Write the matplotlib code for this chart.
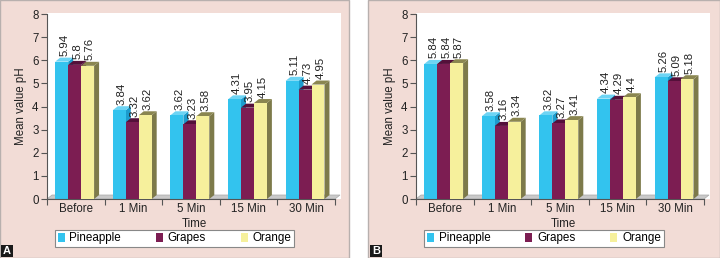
import numpy as np
import matplotlib
matplotlib.use('agg')
import matplotlib.pyplot as plt
from matplotlib.patches import Polygon, Rectangle, Patch

plt.rcParams['font.family'] = ['Liberation Sans', 'DejaVu Sans']

categories = ['Before', '1 Min', '5 Min', '15 Min', '30 Min']
series = ['Pineapple', 'Grapes', 'Orange']
panel_a = {
    'Pineapple': [5.94, 3.84, 3.62, 4.31, 5.11],
    'Grapes': [5.8, 3.32, 3.23, 3.95, 4.73],
    'Orange': [5.76, 3.62, 3.58, 4.15, 4.95],
}
panel_b = {
    'Pineapple': [5.84, 3.58, 3.62, 4.34, 5.26],
    'Grapes': [5.84, 3.16, 3.27, 4.29, 5.09],
    'Orange': [5.87, 3.34, 3.41, 4.4, 5.18],
}
labels_a = {
    'Pineapple': ['5.94', '3.84', '3.62', '4.31', '5.11'],
    'Grapes': ['5.8', '3.32', '3.23', '3.95', '4.73'],
    'Orange': ['5.76', '3.62', '3.58', '4.15', '4.95'],
}
labels_b = {
    'Pineapple': ['5.84', '3.58', '3.62', '4.34', '5.26'],
    'Grapes': ['5.84', '3.16', '3.27', '4.29', '5.09'],
    'Orange': ['5.87', '3.34', '3.41', '4.4', '5.18'],
}

# front, top, side colours
colors = {
    'Pineapple': ('#33c3ee', '#6dd4f4', '#1c9ccd'),
    'Grapes': ('#7c1d52', '#54103a', '#5a123f'),
    'Orange': ('#f6f09c', '#8a8650', '#7d7a4a'),
}
PINK = '#f2dcd6'
W, H = 720, 258
fig = plt.figure(figsize=(W / 100, H / 100), dpi=100)


def px_axes(x0, y0, x1, y1):
    return [x0 / W, 1 - y1 / H, (x1 - x0) / W, (y1 - y0) / H]


def draw_panel(values, labels, ax_box, panel_box, letter_box, letter):
    # panel background
    px0, py0, px1, py1 = panel_box
    fig.patches.append(Rectangle((px0 / W, 1 - py1 / H), (px1 - px0) / W, (py1 - py0) / H,
                                 transform=fig.transFigure, facecolor=PINK,
                                 edgecolor='#b8b0ae', lw=1.0, zorder=-1))
    ax = fig.add_axes(px_axes(*ax_box))
    ax.set_facecolor('white')
    x_per_px = 1 / 57.6
    y_per_px = 1 / 23.125
    dx, dy = 5 * x_per_px, 4 * y_per_px
    xmax = 4.5 + 6 * x_per_px
    ax.set_xlim(-0.5, xmax)
    ax.set_ylim(0, 8 + 1 * y_per_px)

    # floor
    ax.add_patch(Polygon([(-0.5, 0), (4.5, 0), (4.5 + dx, dy), (-0.5 + dx, dy)],
                         closed=True, facecolor='#c9c9c9', edgecolor='#a8a8a8', lw=0.5, zorder=1))

    w = 0.225
    x = np.arange(len(categories))
    for i, s in enumerate(series):
        front, top, side = colors[s]
        xs = x + (i - 1) * w - 0.02
        for xc, v, lab in zip(xs, values[s], labels[s]):
            l, r = xc - w / 2, xc + w / 2
            z = 2 + i
            ax.add_patch(Polygon([(r, 0), (r + dx, dy), (r + dx, v + dy), (r, v)],
                                 closed=True, facecolor=side, edgecolor='none', zorder=z))
            ax.add_patch(Polygon([(l, v), (r, v), (r + dx, v + dy), (l + dx, v + dy)],
                                 closed=True, facecolor=top, edgecolor='none', zorder=z))
            ax.bar(xc, v, width=w, color=front, edgecolor='none', zorder=z)
            ax.text(xc + dx / 2, v + dy + 1.5 * y_per_px, lab, rotation=90, ha='center', va='bottom',
                    fontsize=8.2, color='#222222', zorder=10)

    for sp in ['top', 'right']:
        ax.spines[sp].set_visible(False)
    ax.spines['left'].set_bounds(0, 8)
    ax.spines['bottom'].set_bounds(-0.5, 4.5)
    ax.spines['left'].set_color('#555555')
    ax.spines['bottom'].set_color('#555555')
    ax.spines['left'].set_zorder(12)
    ax.set_yticks(range(0, 9))
    ax.set_xticks(np.arange(-0.5, 5, 1))
    ax.set_xticklabels([])
    ax.set_xticks(x, minor=True)
    ax.set_xticklabels(categories, minor=True)
    ax.tick_params(axis='x', which='minor', length=0, pad=3, labelsize=8.3, labelcolor='#222222')
    ax.tick_params(axis='x', which='major', length=4, direction='out', color='#555555')
    ax.tick_params(axis='y', length=4, direction='out', color='#555555', labelsize=8.3,
                   labelcolor='#222222', pad=2)
    ax.set_xlabel('Time', fontsize=8.3, color='#222222', labelpad=2)
    ax.set_ylabel('Mean value pH', fontsize=8.3, color='#222222', labelpad=4)

    handles = [Patch(facecolor=colors[s][0], edgecolor='none') for s in series]
    cx = (px0 + px1) / 2
    leg = fig.legend(handles, series, loc='center', ncol=3,
                     bbox_to_anchor=(cx / W, 1 - 238.5 / H), frameon=True, fancybox=False,
                     fontsize=8.4, handlelength=0.6, handleheight=0.75, handletextpad=0.4,
                     columnspacing=3.0, borderpad=0.25, borderaxespad=0, framealpha=1)
    leg.get_frame().set_edgecolor('#888888')
    leg.get_frame().set_linewidth(0.8)

    lx0, ly0, lx1, ly1 = letter_box
    fig.patches.append(Rectangle((lx0 / W, 1 - ly1 / H), (lx1 - lx0) / W, (ly1 - ly0) / H,
                                 transform=fig.transFigure, facecolor='#1a1a1a',
                                 edgecolor='none', zorder=5))
    fig.text((lx0 + lx1) / 2 / W, 1 - (ly0 + ly1) / 2 / H, letter, color='white',
             fontsize=8, fontweight='bold', ha='center', va='center', zorder=6)


draw_panel(panel_a, labels_a, (47, 13, 341, 199), (0, 0, 349, 258), (1, 245, 13, 257), 'A')
draw_panel(panel_b, labels_b, (416, 13, 710, 199), (368, 0, 720, 258), (370, 245, 382, 257), 'B')

fig.savefig('out.png', dpi=100)
